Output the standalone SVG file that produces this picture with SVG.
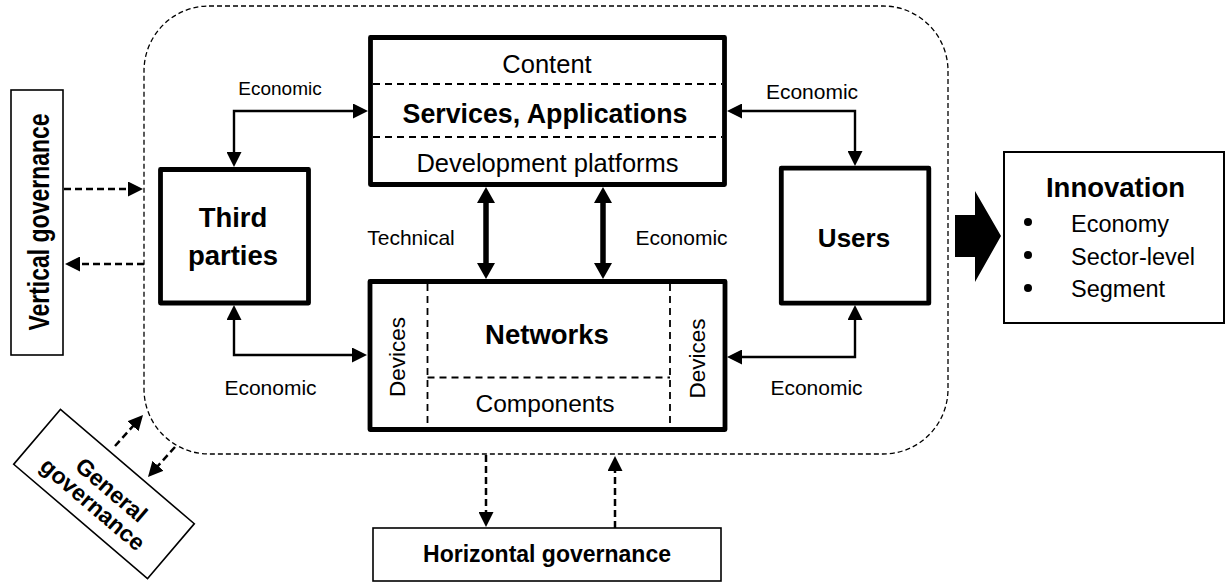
<svg xmlns="http://www.w3.org/2000/svg" width="1225" height="582" viewBox="0 0 1225 582">
<defs>
<style>
text{font-family:"Liberation Sans",Arial,sans-serif;fill:#000}
.b{font-weight:bold}
.main{fill:#fff;stroke:#000;stroke-width:4.8;stroke-linejoin:round}
.gov{fill:#fff;stroke:#000;stroke-width:1.6}
.sep{stroke:#000;stroke-width:1.8;stroke-dasharray:7 5;fill:none}
.conn{stroke:#000;stroke-width:2.4;fill:none}
.thick{stroke:#000;stroke-width:5.5;fill:none}
.dconn{stroke:#000;stroke-width:2.5;stroke-dasharray:7 4;fill:none}
.bound{fill:none;stroke:#000;stroke-width:1.3;stroke-dasharray:5 3}
</style>
<marker id="ah" viewBox="0 0 15 15" refX="9" refY="7.5" markerWidth="15" markerHeight="15" markerUnits="userSpaceOnUse" orient="auto-start-reverse"><path d="M0,0 L15,7.5 L0,15 z" fill="#000"/></marker>
<marker id="ahb" viewBox="0 0 16 18" refX="6" refY="9" markerWidth="16" markerHeight="18" markerUnits="userSpaceOnUse" orient="auto-start-reverse"><path d="M0,0 L16,9 L0,18 z" fill="#000"/></marker>
</defs>
<rect width="1225" height="582" fill="#fff"/>
<g id="ecosystem-boundary">
<rect class="bound" x="144" y="6" width="804" height="448" rx="65"/>
</g>
<g id="services">
<rect class="main" x="370.5" y="37.5" width="354" height="147"/>
<line class="sep" x1="373" y1="84" x2="722" y2="84"/>
<line class="sep" x1="373" y1="137" x2="722" y2="137"/>
<text x="547" y="73" font-size="25.5" text-anchor="middle">Content</text>
<text class="b" x="545" y="123" font-size="26.8" text-anchor="middle">Services, Applications</text>
<text x="547.5" y="171.5" font-size="25.5" text-anchor="middle">Development platforms</text>
</g>
<g id="third-parties">
<rect class="main" x="160.5" y="169.5" width="148" height="133.5"/>
<text class="b" x="233" y="227" font-size="27.5" text-anchor="middle">Third</text>
<text class="b" x="233" y="265" font-size="27.5" text-anchor="middle">parties</text>
</g>
<g id="users">
<rect class="main" x="781.3" y="168.2" width="147.5" height="135"/>
<text class="b" x="854" y="246.5" font-size="26" text-anchor="middle">Users</text>
</g>
<g id="networks">
<rect class="main" x="370" y="281.5" width="355" height="148"/>
<line class="sep" x1="427.5" y1="284" x2="427.5" y2="427"/>
<line class="sep" x1="670" y1="284" x2="670" y2="427"/>
<line class="sep" x1="427.5" y1="377.5" x2="670" y2="377.5"/>
<text class="b" x="547" y="343.5" font-size="27.5" text-anchor="middle">Networks</text>
<text x="545" y="411.5" font-size="24.5" text-anchor="middle">Components</text>
<text transform="translate(404.5,357) rotate(-90)" font-size="22.5" text-anchor="middle">Devices</text>
<text transform="translate(704.5,358.5) rotate(-90)" font-size="22.5" text-anchor="middle">Devices</text>
</g>
<g id="vertical-governance">
<rect class="gov" x="11" y="90" width="52" height="265"/>
<text class="b" transform="translate(49,222) rotate(-90) scale(1,1.25)" font-size="23" text-anchor="middle">Vertical governance</text>
</g>
<g id="horizontal-governance">
<rect class="gov" x="373" y="528" width="348" height="53"/>
<text class="b" x="547" y="561.5" font-size="23" text-anchor="middle">Horizontal governance</text>
</g>
<g id="general-governance" transform="translate(104,494) rotate(40.5)">
<rect class="gov" x="-88" y="-36" width="176" height="72"/>
<text class="b" x="3" y="0" font-size="23" text-anchor="middle">General</text>
<text class="b" x="-2" y="23" font-size="23" text-anchor="middle">governance</text>
</g>
<g id="innovation">
<rect x="1004" y="152" width="220" height="171" fill="#fff" stroke="#000" stroke-width="2"/>
<text class="b" x="1115.5" y="197" font-size="27.5" text-anchor="middle">Innovation</text>
<circle cx="1028" cy="222" r="4"/>
<circle cx="1028" cy="255" r="4"/>
<circle cx="1028" cy="288" r="4"/>
<text x="1071" y="232" font-size="23.5">Economy</text>
<text x="1071" y="264.5" font-size="23.5">Sector-level</text>
<text x="1071" y="297" font-size="23.5">Segment</text>
</g>
<g id="connectors">
<path class="conn" d="M234,161 L234,111 L362,111" marker-start="url(#ah)" marker-end="url(#ah)"/>
<path class="conn" d="M733,111 L855,111 L855,160" marker-start="url(#ah)" marker-end="url(#ah)"/>
<path class="conn" d="M234,311 L234,355 L361,355" marker-start="url(#ah)" marker-end="url(#ah)"/>
<path class="conn" d="M733,357 L855,357 L855,311" marker-start="url(#ah)" marker-end="url(#ah)"/>
<path class="thick" d="M486,197 L486,269" marker-start="url(#ahb)" marker-end="url(#ahb)"/>
<path class="thick" d="M603,197 L603,269" marker-start="url(#ahb)" marker-end="url(#ahb)"/>
<path class="dconn" d="M64,189 L137,189" marker-end="url(#ah)"/>
<path class="dconn" d="M144,264 L71,264" marker-end="url(#ah)"/>
<path class="dconn" d="M486,455 L486,521" marker-end="url(#ah)"/>
<path class="dconn" d="M615,528 L615,462" marker-end="url(#ah)"/>
<path class="dconn" d="M115,446 L139,419.5" marker-end="url(#ah)"/>
<path class="dconn" d="M175,447 L152,472.5" marker-end="url(#ah)"/>
<polygon points="955,215 975,215 975,191 1001,236 975,282 975,257 955,257" fill="#000"/>
<text x="280" y="95" font-size="19" text-anchor="middle">Economic</text>
<text x="812" y="99" font-size="21" text-anchor="middle">Economic</text>
<text x="411" y="245" font-size="21" text-anchor="middle">Technical</text>
<text x="681.5" y="245" font-size="21" text-anchor="middle">Economic</text>
<text x="270.5" y="395" font-size="21" text-anchor="middle">Economic</text>
<text x="816.5" y="395" font-size="21" text-anchor="middle">Economic</text>
</g>
</svg>
